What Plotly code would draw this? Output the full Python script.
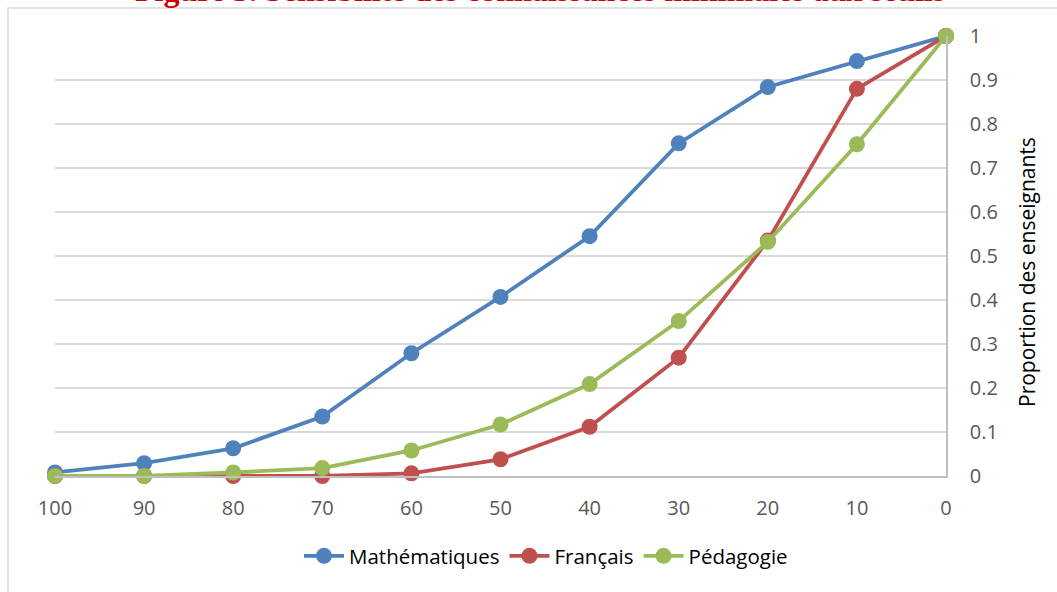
import plotly.graph_objects as go

# Threshold categories (percent), read right-to-left toward 0
seuils = ["100", "90", "80", "70", "60", "50", "40", "30", "20", "10", "0"]

mathematiques = [0.008, 0.029, 0.063, 0.135, 0.279, 0.407, 0.545, 0.756, 0.884, 0.943, 1.0]
francais = [0.0, 0.0, 0.0, 0.0, 0.006, 0.038, 0.112, 0.269, 0.535, 0.880, 1.0]
pedagogie = [0.0, 0.0, 0.008, 0.018, 0.058, 0.117, 0.209, 0.352, 0.532, 0.754, 1.0]

y_ticks = [0, 0.1, 0.2, 0.3, 0.4, 0.5, 0.6, 0.7, 0.8, 0.9, 1]
y_tick_text = ["0", "0.1", "0.2", "0.3", "0.4", "0.5", "0.6", "0.7", "0.8", "0.9", "1"]

W, H = 1057, 592
L, R, T, B = 55, 111, 36, 116
pw, ph = W - L - R, H - T - B

FONT = "Open Sans"
series = [
    ("Mathématiques", mathematiques, "#4f81bd"),
    ("Français", francais, "#c0504d"),
    ("Pédagogie", pedagogie, "#9bbb59"),
]

fig = go.Figure()
for name, vals, color in series:
    fig.add_trace(go.Scatter(
        x=seuils, y=vals, name=name, mode="lines+markers",
        line=dict(color=color, width=3.8),
        marker=dict(color=color, size=16),
        cliponaxis=False,
    ))

def px_x(p):
    return (p - L) / pw

def px_y(p):
    return (H - B - p) / ph

fig.update_layout(
    width=W, height=H,
    margin=dict(l=L, r=R, t=T, b=B, autoexpand=False),
    paper_bgcolor="white", plot_bgcolor="white",
    font=dict(family=FONT, size=20, color="#595959"),
    showlegend=True,
    legend=dict(
        orientation="h", x=px_x(546), xanchor="center",
        y=px_y(556), yanchor="middle",
        font=dict(family=FONT, size=20.5, color="#000000"),
        itemwidth=40, traceorder="normal",
    ),
    xaxis=dict(
        type="category", range=[0, 10],
        showgrid=False, showline=True, linecolor="#bfbfbf", linewidth=1.5,
        ticks="", ticklabelstandoff=13,
        tickfont=dict(family=FONT, size=20, color="#595959"),
        zeroline=False,
    ),
    yaxis=dict(
        side="right", range=[0, 1],
        tickvals=y_ticks, ticktext=y_tick_text,
        showgrid=True, gridcolor="#d9d9d9", gridwidth=1.5,
        showline=True, linecolor="#bfbfbf", linewidth=1.5,
        ticks="", ticklabelstandoff=18,
        tickfont=dict(family=FONT, size=20, color="#595959"),
        zeroline=False,
    ),
    shapes=[dict(
        type="rect", xref="paper", yref="paper",
        x0=px_x(8), x1=px_x(1100), y0=px_y(640), y1=px_y(8),
        line=dict(color="#d9d9d9", width=1.5), fillcolor="rgba(0,0,0,0)",
        layer="below",
    )],
    annotations=[
        dict(
            text="Proportion des enseignants", textangle=-90,
            xref="paper", yref="paper", x=px_x(1027), y=px_y(272),
            xanchor="center", yanchor="middle", showarrow=False,
            font=dict(family=FONT, size=21, color="#000000"),
        ),
        dict(
            text="<b>Figure 3. Sensibilité des connaissances minimales aux seuils</b>",
            xref="paper", yref="paper", x=px_x(540), y=px_y(10),
            xanchor="center", yanchor="bottom", showarrow=False,
            font=dict(family="Liberation Serif", size=32, color="#cc0000"),
        ),
    ],
)

fig.write_html("out.html")
